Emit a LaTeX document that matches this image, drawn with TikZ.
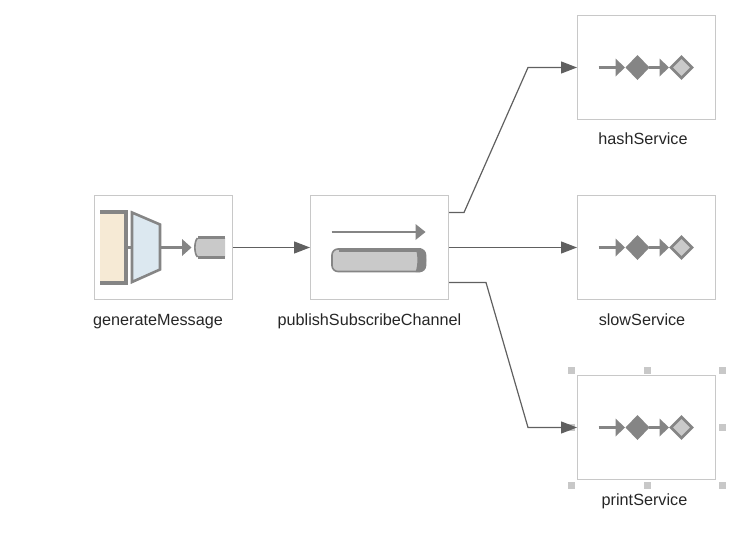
\documentclass[tikz,border=0pt]{standalone}
\usepackage{fontspec}
\setmainfont{Liberation Sans}
\usetikzlibrary{arrows.meta,positioning,calc}
\definecolor{boxline}{HTML}{C8C8C8}
\definecolor{iconline}{HTML}{858585}
\definecolor{iconfill}{HTML}{C9C9C9}
\definecolor{linkline}{HTML}{606060}
\definecolor{creamfill}{HTML}{F6EAD5}
\definecolor{bluefill}{HTML}{DCE8F0}
\tikzset{
  endpoint/.style={draw=boxline,line width=1pt,fill=white,minimum width=138pt,minimum height=104pt,inner sep=0pt},
  caption/.style={font=\fontsize{16.2pt}{18pt}\selectfont,text=black!85,inner sep=0pt,anchor=base},
  link/.style={draw=linkline,line width=1.2pt,-{Triangle[length=16pt,width=12pt]}},
  iconstroke/.style={draw=iconline,line width=2.6pt},
  icontip/.style={fill=iconline},
  activator/.pic={
    \draw[iconline,line width=2.2pt] (-48,0) -- (-31,0);
    \fill[icontip] (-31,9) -- (-21.5,0) -- (-31,-9) -- cycle;
    \fill[iconline] (-21,0) -- (-9,12.5) -- (3,0) -- (-9,-12.5) -- cycle;
    \draw[iconline,line width=2.2pt] (2,0) -- (13.5,0);
    \fill[icontip] (13,9) -- (22.5,0) -- (13,-9) -- cycle;
    \draw[iconstroke,fill=iconfill] (24.5,0) -- (35,10.5) -- (45.5,0) -- (35,-10.5) -- cycle;
  }
}

\begin{document}
\begin{tikzpicture}[x=1pt,y=1pt]
  \useasboundingbox (0,0) rectangle (749,-538);

  % Boxes
  \node[endpoint] (generate) at (163.5,-247.5) {};
  \node[endpoint] (channel) at (379.5,-247.5) {};
  \node[endpoint] (slow) at (646.5,-247.5) {};
  \node[endpoint,above=75pt of slow] (hash) {};
  \node[endpoint,below=75pt of slow] (print) {};

  % Captions
  \node[caption] (generatelabel) at (158,-325) {generateMessage};
  \node[caption] (channellabel) at (369.5,-325) {publishSubscribeChannel};
  \node[caption] (hashlabel) at (643,-144.5) {hashService};
  \node[caption] (slowlabel) at (642,-325) {slowService};
  \node[caption] (printlabel) at (644.5,-505) {printService};

  % Selection handles
  \foreach \hx/\hy in {-75/57.5,0.5/57.5,76/57.5,76/0,76/-57.5,0.5/-57.5,-75/-57.5,-75/0} {
    \fill[boxline] ($(print.center)+(\hx,\hy)+(-3.5,-3.5)$) rectangle +(7,7);
  }

  % Message source icon
  \begin{scope}[shift={(generate.center)}]
    \fill[creamfill] (-63.5,36) rectangle (-38,-36);
    \draw[iconline,line width=3.4pt] (-63.5,35.5) -- (-37.5,35.5) -- (-37.5,-35.5) -- (-63.5,-35.5);
    \draw[iconline,line width=2.2pt] (-37.5,0) -- (-31.5,0);
    \draw[iconstroke,fill=bluefill] (-31.5,35) -- (-3.5,23) -- (-3.5,-22) -- (-31.5,-34.5) -- cycle;
    \draw[iconline,line width=2.2pt] (-3.5,0) -- (19,0);
    \fill[icontip] (18.5,8.5) -- (28,0) -- (18.5,-8.5) -- cycle;
    \fill[iconfill] (61.5,9.5) -- (34,9.5) .. controls (30.5,6) and (30.5,-6) .. (34,-9.5) -- (61.5,-9.5) -- cycle;
    \draw[iconline,line width=1.6pt] (34,9.5) .. controls (30.5,6) and (30.5,-6) .. (34,-9.5);
    \draw[iconstroke] (61.5,10) -- (34,10);
    \draw[iconstroke] (61.5,-10) -- (34,-10);
  \end{scope}

  % Channel icon
  \begin{scope}[shift={(channel.center)}]
    \draw[iconline,line width=2.8pt] (-48,15.5) -- (37,15.5);
    \fill[icontip] (36,23.5) -- (46,15.5) -- (36,7.5) -- cycle;
    \draw[iconline,line width=1.6pt,fill=iconfill,rounded corners=6pt] (-47.5,-1.5) rectangle (46,-24);
    \fill[iconline] (-41,-0.8) rectangle (41,-4.5);
    \fill[iconline] (36,-0.8) -- (41,-0.8) .. controls (48.5,-3) and (48.5,-22.5) .. (41,-24.5) -- (36,-24.5) .. controls (38.5,-18) and (38.5,-7) .. (36,-0.8) -- cycle;
  \end{scope}

  % Service icons
  \foreach \svc in {hash,slow,print} {
    \pic at (\svc.center) {activator};
  }

  % Connectors
  \coordinate (splitA) at ($(channel.east)+(15,35)$);
  \coordinate (bendA) at ($(hash.west)+(-49,0)$);
  \coordinate (splitC) at ($(channel.east)+(37,-35)$);
  \coordinate (bendC) at ($(print.west)+(-49,0)$);
  \draw[link] (generate) -- (channel);
  \draw[link] (channel) -- (slow);
  \draw[link] ($(channel.east)+(0,35)$) -- (splitA) -- (bendA) -- (hash.west);
  \draw[link] ($(channel.east)+(0,-35)$) -- (splitC) -- (bendC) -- (print.west);
\end{tikzpicture}
\end{document}
